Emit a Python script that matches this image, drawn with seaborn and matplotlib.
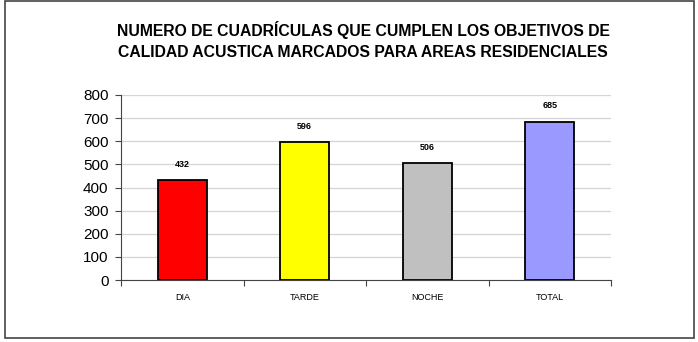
import matplotlib
matplotlib.use("Agg")
import matplotlib.pyplot as plt
import seaborn as sns
import pandas as pd
from matplotlib.patches import Rectangle

categorias = ["DIA", "TARDE", "NOCHE", "TOTAL"]
valores = [432, 596, 506, 685]
colores = ["#ff0000", "#ffff00", "#c0c0c0", "#9999ff"]
titulo = "NUMERO DE CUADRÍCULAS QUE CUMPLEN LOS OBJETIVOS DE\nCALIDAD ACUSTICA MARCADOS PARA AREAS RESIDENCIALES"

sns.set_style("white")
plt.rcParams["font.family"] = ["Liberation Sans", "DejaVu Sans"]
plt.rcParams["text.color"] = "black"
plt.rcParams["xtick.color"] = "black"
plt.rcParams["ytick.color"] = "black"

df = pd.DataFrame({"cat": categorias, "val": valores})

fig = plt.figure(figsize=(6.98, 3.42), dpi=100)
ax = fig.add_axes([121 / 698, 1 - 280 / 342, 490 / 698, 185 / 342])

sns.barplot(data=df, x="cat", y="val", hue="cat", palette=colores, legend=False,
            saturation=1, width=0.4, edgecolor="black", linewidth=1.3, ax=ax)

ax.set_ylim(0, 800)
ax.set_xlim(-0.5, 3.5)
ax.set_yticks(range(0, 801, 100))
ax.yaxis.grid(True, color="#d4d4d4", linewidth=0.9)
ax.set_axisbelow(True)
ax.tick_params(axis="y", labelsize=11, length=4, width=0.8, color="#444444",
               labelcolor="black", pad=5, left=True)
ax.tick_params(axis="x", which="major", labelsize=6.5, length=0, pad=9, labelcolor="black")
ax.set_xticks([-0.5, 0.5, 1.5, 2.5, 3.5], minor=True)
ax.tick_params(axis="x", which="minor", length=4, width=0.8, color="#444444", bottom=True)
ax.set_xlabel("")
ax.set_ylabel("")
for s in ["top", "right"]:
    ax.spines[s].set_visible(False)
for s in ["left", "bottom"]:
    ax.spines[s].set_color("#444444")
    ax.spines[s].set_linewidth(0.8)

for i, v in enumerate(valores):
    ax.annotate(str(v), (i, v), xytext=(0, 8), textcoords="offset points",
                ha="center", va="bottom", fontsize=6.5, fontweight="bold")

fig.text(0.52, 0.883, titulo, ha="center", va="center", fontsize=11.3,
         fontweight="bold", linespacing=1.5, color="black")

fig.patches.append(Rectangle((5 / 698, 4 / 342), 689 / 698, 337 / 342,
                             transform=fig.transFigure, fill=False,
                             edgecolor="#444444", linewidth=1.2))

fig.savefig("out.png", dpi=100)
